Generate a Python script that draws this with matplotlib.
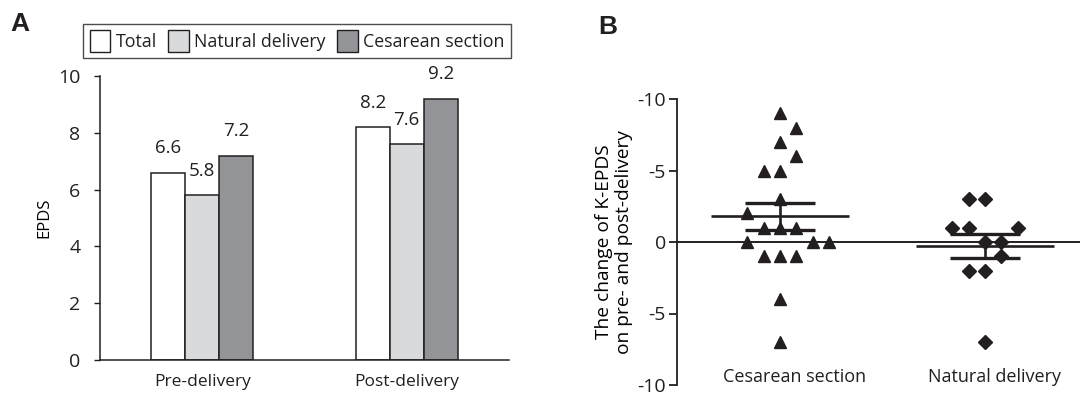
import numpy as np
import matplotlib
matplotlib.use("Agg")
import matplotlib.pyplot as plt
from matplotlib.patches import Patch
from matplotlib.transforms import blended_transform_factory

# ---------------- data ----------------
groups = ["Pre-delivery", "Post-delivery"]
series_names = ["Total", "Natural delivery", "Cesarean section"]
total = [6.6, 8.2]
natural = [5.8, 7.6]
cesarean = [7.2, 9.2]

b_categories = ["Cesarean section", "Natural delivery"]
cesarean_change = [9, 8, 7, 6, 5, 5, 3, 2, 1, 1, 1, 0, 0, 0, -1, -1, -1, -4, -7]
cesarean_slot = [0, 1, 0, 1, -1, 0, 0, -2, -1, 0, 1, -2, 2, 3, -1, 0, 1, 0, 0]
natural_change = [3, 3, 1, 1, 1, 0, 0, -1, -2, -2, -7]
natural_slot = [-1, 0, -2, -1, 2, 0, 1, 1, -1, 0, 0]
b_ticks = [10, 5, 0, -5, -10]
b_ticklabels = ["-10", "-5", "0", "-5", "-10"]

# ---------------- style ----------------
plt.rcParams['font.family'] = ['Open Sans', 'DejaVu Sans']
TXT = '#231f20'
plt.rcParams['text.color'] = TXT
plt.rcParams['axes.edgecolor'] = TXT
plt.rcParams['xtick.color'] = TXT
plt.rcParams['ytick.color'] = TXT
colors = ['#ffffff', '#d9dadb', '#939498']

W, H = 1080, 397
fig = plt.figure(figsize=(W / 100, H / 100), dpi=100)

# ---------------- panel A ----------------
axA = fig.add_axes([100 / W, 1 - 360 / H, 409 / W, 284 / H])
x = np.arange(len(groups))
bw = 1 / 6
for i, (vals, c) in enumerate(zip([total, natural, cesarean], colors)):
    bars = axA.bar(x + (i - 1) * bw, vals, width=bw, color=c,
                   edgecolor=TXT, linewidth=1.1)
    for b, v in zip(bars, vals):
        axA.annotate(f"{v:.1f}", (b.get_x() + b.get_width() / 2, v),
                     xytext=(0, 11), textcoords='offset points',
                     ha='center', va='bottom', fontsize=13.5)
axA.set_xlim(-0.5, 1.5)
axA.set_ylim(0, 10)
axA.set_yticks([0, 2, 4, 6, 8, 10])
axA.set_xticks(x)
axA.set_xticklabels(groups, fontsize=12.5)
axA.tick_params(axis='x', length=0, pad=10)
axA.tick_params(axis='y', length=4, width=1, pad=10, labelsize=14)
for s in ['top', 'right']:
    axA.spines[s].set_visible(False)
for s in ['left', 'bottom']:
    axA.spines[s].set_linewidth(1.1)
axA.set_ylabel("EPDS", fontsize=12, labelpad=4)

handles = [Patch(facecolor=c, edgecolor=TXT, linewidth=1) for c in colors]
leg = fig.legend(handles, series_names, loc='center',
                 bbox_to_anchor=(297 / W, 1 - 41 / H), ncol=3,
                 fontsize=12.8, handlelength=1.15, handleheight=1.55,
                 handletextpad=0.3, columnspacing=0.65, borderpad=0.35,
                 fancybox=False, frameon=True, borderaxespad=0)
leg.get_frame().set_edgecolor(TXT)
leg.get_frame().set_linewidth(1)

fig.text(10 / W, 1 - 24 / H, "A", fontsize=19, fontweight='bold',
         family='Liberation Sans', va='center', ha='left')

# ---------------- panel B ----------------
axB = fig.add_axes([677 / W, 1 - 385 / H, 403 / W, 286 / H])
step = 0.08
axB.axhline(0, color=TXT, lw=1.4, zorder=1)
for k, (vals, slots, mk, ms) in enumerate([
        (cesarean_change, cesarean_slot, '^', 8),
        (natural_change, natural_slot, 'D', 6.8)]):
    vals = np.asarray(vals, float)
    xs = k + np.asarray(slots) * step
    axB.plot(xs, vals, linestyle='none', marker=mk, markersize=ms,
             color=TXT, zorder=3)
    m = vals.mean()
    sem = vals.std(ddof=1) / np.sqrt(len(vals))
    axB.hlines(m, k - 0.337, k + 0.337, color=TXT, lw=1.9, zorder=2)
    axB.hlines([m - sem, m + sem], k - 0.17, k + 0.17, color=TXT, lw=2.4, zorder=2)
    axB.vlines(k, m - sem, m + sem, color=TXT, lw=1.9, zorder=2)

axB.set_xlim(-0.502, 1.463)
axB.set_ylim(-10, 10)
axB.set_yticks(b_ticks)
axB.set_yticklabels(b_ticklabels)
axB.tick_params(axis='y', length=6, width=1.3, pad=2, labelsize=14)
axB.set_xticks([])
for s in ['top', 'right', 'bottom']:
    axB.spines[s].set_visible(False)
axB.spines['left'].set_linewidth(1.3)
axB.set_ylabel("The change of K-EPDS\non pre- and post-delivery",
               fontsize=13.8, labelpad=3, linespacing=1.15)
tr = blended_transform_factory(axB.transData, axB.transAxes)
for k, (lab, dx) in enumerate(zip(b_categories, [0.073, 0.044])):
    axB.text(k + dx, 0.028, lab, transform=tr, ha='center', va='center',
             fontsize=13)

fig.text(598 / W, 1 - 27 / H, "B", fontsize=19, fontweight='bold',
         family='Liberation Sans', va='center', ha='left')

fig.savefig("out.png", dpi=100)
